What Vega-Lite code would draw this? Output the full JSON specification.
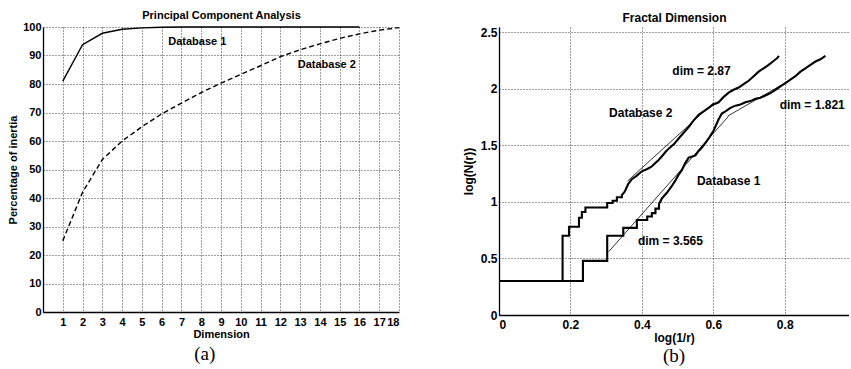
{
  "$schema": "https://vega.github.io/schema/vega-lite/v6.json",
  "background": "white",
  "padding": {"left": 7, "top": 9, "right": 0, "bottom": 0},
  "spacing": 60,
  "config": {
    "view": {"stroke": null},
    "font": "Liberation Sans",
    "axis": {
      "labelFont": "Liberation Sans", "labelFontWeight": "bold", "labelColor": "black",
      "titleFont": "Liberation Sans", "titleFontWeight": "bold", "titleColor": "black",
      "domainColor": "black", "domainWidth": 1.3,
      "gridColor": "#000", "gridDash": [1, 2], "gridWidth": 0.9, "gridOpacity": 0.85,
      "ticks": false, "labelOverlap": false
    },
    "title": {"font": "Liberation Serif", "fontWeight": "normal", "fontSize": 19, "color": "black"}
  },
  "datasets": {
    "pca": [
      {"series": "Database 1", "dimension": 1, "pct": 81},
      {"series": "Database 1", "dimension": 2, "pct": 93.8},
      {"series": "Database 1", "dimension": 3, "pct": 97.8},
      {"series": "Database 1", "dimension": 4, "pct": 99.2},
      {"series": "Database 1", "dimension": 5, "pct": 99.7},
      {"series": "Database 1", "dimension": 6, "pct": 99.9},
      {"series": "Database 1", "dimension": 7, "pct": 100},
      {"series": "Database 1", "dimension": 8, "pct": 100},
      {"series": "Database 1", "dimension": 9, "pct": 100},
      {"series": "Database 1", "dimension": 10, "pct": 100},
      {"series": "Database 1", "dimension": 11, "pct": 100},
      {"series": "Database 1", "dimension": 12, "pct": 100},
      {"series": "Database 1", "dimension": 13, "pct": 100},
      {"series": "Database 1", "dimension": 14, "pct": 100},
      {"series": "Database 1", "dimension": 15, "pct": 100},
      {"series": "Database 1", "dimension": 16, "pct": 100},
      {"series": "Database 2", "dimension": 1, "pct": 25},
      {"series": "Database 2", "dimension": 2, "pct": 42},
      {"series": "Database 2", "dimension": 3, "pct": 53.5},
      {"series": "Database 2", "dimension": 4, "pct": 60},
      {"series": "Database 2", "dimension": 5, "pct": 65},
      {"series": "Database 2", "dimension": 6, "pct": 69.5},
      {"series": "Database 2", "dimension": 7, "pct": 73.3},
      {"series": "Database 2", "dimension": 8, "pct": 77},
      {"series": "Database 2", "dimension": 9, "pct": 80.3},
      {"series": "Database 2", "dimension": 10, "pct": 83.4},
      {"series": "Database 2", "dimension": 11, "pct": 86.4},
      {"series": "Database 2", "dimension": 12, "pct": 89.6},
      {"series": "Database 2", "dimension": 13, "pct": 92},
      {"series": "Database 2", "dimension": 14, "pct": 94.1},
      {"series": "Database 2", "dimension": 15, "pct": 96},
      {"series": "Database 2", "dimension": 16, "pct": 97.6},
      {"series": "Database 2", "dimension": 17, "pct": 98.9},
      {"series": "Database 2", "dimension": 18, "pct": 99.8}
    ],
    "notesA": [
      {"label": "Database 1", "dimension": 7.8, "pct": 94.8},
      {"label": "Database 2", "dimension": 14.35, "pct": 86.7}
    ],
    "fractal": [
      {"series": "Database 2", "x": 0, "y": 0.30},
      {"series": "Database 2", "x": 0.178, "y": 0.30},
      {"series": "Database 2", "x": 0.178, "y": 0.70},
      {"series": "Database 2", "x": 0.196, "y": 0.70},
      {"series": "Database 2", "x": 0.196, "y": 0.78},
      {"series": "Database 2", "x": 0.224, "y": 0.78},
      {"series": "Database 2", "x": 0.224, "y": 0.86},
      {"series": "Database 2", "x": 0.232, "y": 0.86},
      {"series": "Database 2", "x": 0.232, "y": 0.91},
      {"series": "Database 2", "x": 0.242, "y": 0.91},
      {"series": "Database 2", "x": 0.242, "y": 0.95},
      {"series": "Database 2", "x": 0.303, "y": 0.95},
      {"series": "Database 2", "x": 0.303, "y": 0.99},
      {"series": "Database 2", "x": 0.318, "y": 0.99},
      {"series": "Database 2", "x": 0.318, "y": 1.01},
      {"series": "Database 2", "x": 0.330, "y": 1.01},
      {"series": "Database 2", "x": 0.330, "y": 1.04},
      {"series": "Database 2", "x": 0.344, "y": 1.04},
      {"series": "Database 2", "x": 0.344, "y": 1.06},
      {"series": "Database 2", "x": 0.352, "y": 1.09},
      {"series": "Database 2", "x": 0.362, "y": 1.16},
      {"series": "Database 2", "x": 0.372, "y": 1.20},
      {"series": "Database 2", "x": 0.385, "y": 1.23},
      {"series": "Database 2", "x": 0.400, "y": 1.27},
      {"series": "Database 2", "x": 0.415, "y": 1.29},
      {"series": "Database 2", "x": 0.427, "y": 1.31},
      {"series": "Database 2", "x": 0.437, "y": 1.34},
      {"series": "Database 2", "x": 0.447, "y": 1.37},
      {"series": "Database 2", "x": 0.458, "y": 1.41},
      {"series": "Database 2", "x": 0.466, "y": 1.44},
      {"series": "Database 2", "x": 0.475, "y": 1.47},
      {"series": "Database 2", "x": 0.490, "y": 1.51},
      {"series": "Database 2", "x": 0.503, "y": 1.56},
      {"series": "Database 2", "x": 0.517, "y": 1.61},
      {"series": "Database 2", "x": 0.531, "y": 1.66},
      {"series": "Database 2", "x": 0.545, "y": 1.72},
      {"series": "Database 2", "x": 0.559, "y": 1.77},
      {"series": "Database 2", "x": 0.573, "y": 1.80},
      {"series": "Database 2", "x": 0.587, "y": 1.83},
      {"series": "Database 2", "x": 0.600, "y": 1.86},
      {"series": "Database 2", "x": 0.615, "y": 1.88},
      {"series": "Database 2", "x": 0.630, "y": 1.93},
      {"series": "Database 2", "x": 0.643, "y": 1.965},
      {"series": "Database 2", "x": 0.657, "y": 1.99},
      {"series": "Database 2", "x": 0.671, "y": 2.01},
      {"series": "Database 2", "x": 0.685, "y": 2.04},
      {"series": "Database 2", "x": 0.699, "y": 2.07},
      {"series": "Database 2", "x": 0.713, "y": 2.11},
      {"series": "Database 2", "x": 0.727, "y": 2.15},
      {"series": "Database 2", "x": 0.741, "y": 2.18},
      {"series": "Database 2", "x": 0.755, "y": 2.21},
      {"series": "Database 2", "x": 0.767, "y": 2.24},
      {"series": "Database 2", "x": 0.779, "y": 2.27},
      {"series": "Database 2", "x": 0.784, "y": 2.29},
      {"series": "Database 1", "x": 0, "y": 0.30},
      {"series": "Database 1", "x": 0.235, "y": 0.30},
      {"series": "Database 1", "x": 0.235, "y": 0.478},
      {"series": "Database 1", "x": 0.303, "y": 0.478},
      {"series": "Database 1", "x": 0.303, "y": 0.70},
      {"series": "Database 1", "x": 0.348, "y": 0.70},
      {"series": "Database 1", "x": 0.348, "y": 0.77},
      {"series": "Database 1", "x": 0.386, "y": 0.77},
      {"series": "Database 1", "x": 0.386, "y": 0.84},
      {"series": "Database 1", "x": 0.415, "y": 0.84},
      {"series": "Database 1", "x": 0.415, "y": 0.87},
      {"series": "Database 1", "x": 0.428, "y": 0.87},
      {"series": "Database 1", "x": 0.428, "y": 0.90},
      {"series": "Database 1", "x": 0.438, "y": 0.90},
      {"series": "Database 1", "x": 0.438, "y": 0.94},
      {"series": "Database 1", "x": 0.448, "y": 0.94},
      {"series": "Database 1", "x": 0.448, "y": 0.98},
      {"series": "Database 1", "x": 0.456, "y": 1.03},
      {"series": "Database 1", "x": 0.470, "y": 1.08},
      {"series": "Database 1", "x": 0.484, "y": 1.14},
      {"series": "Database 1", "x": 0.494, "y": 1.19},
      {"series": "Database 1", "x": 0.503, "y": 1.24},
      {"series": "Database 1", "x": 0.512, "y": 1.28},
      {"series": "Database 1", "x": 0.521, "y": 1.34},
      {"series": "Database 1", "x": 0.531, "y": 1.39},
      {"series": "Database 1", "x": 0.541, "y": 1.40},
      {"series": "Database 1", "x": 0.550, "y": 1.41},
      {"series": "Database 1", "x": 0.559, "y": 1.45},
      {"series": "Database 1", "x": 0.568, "y": 1.48},
      {"series": "Database 1", "x": 0.578, "y": 1.52},
      {"series": "Database 1", "x": 0.587, "y": 1.56},
      {"series": "Database 1", "x": 0.601, "y": 1.63},
      {"series": "Database 1", "x": 0.615, "y": 1.73},
      {"series": "Database 1", "x": 0.624, "y": 1.78},
      {"series": "Database 1", "x": 0.634, "y": 1.80},
      {"series": "Database 1", "x": 0.648, "y": 1.83},
      {"series": "Database 1", "x": 0.662, "y": 1.85},
      {"series": "Database 1", "x": 0.676, "y": 1.86},
      {"series": "Database 1", "x": 0.690, "y": 1.88},
      {"series": "Database 1", "x": 0.704, "y": 1.89},
      {"series": "Database 1", "x": 0.718, "y": 1.91},
      {"series": "Database 1", "x": 0.732, "y": 1.92},
      {"series": "Database 1", "x": 0.746, "y": 1.94},
      {"series": "Database 1", "x": 0.760, "y": 1.96},
      {"series": "Database 1", "x": 0.774, "y": 1.99},
      {"series": "Database 1", "x": 0.788, "y": 2.02},
      {"series": "Database 1", "x": 0.802, "y": 2.05},
      {"series": "Database 1", "x": 0.816, "y": 2.08},
      {"series": "Database 1", "x": 0.830, "y": 2.11},
      {"series": "Database 1", "x": 0.844, "y": 2.15},
      {"series": "Database 1", "x": 0.858, "y": 2.18},
      {"series": "Database 1", "x": 0.872, "y": 2.21},
      {"series": "Database 1", "x": 0.886, "y": 2.24},
      {"series": "Database 1", "x": 0.900, "y": 2.26},
      {"series": "Database 1", "x": 0.914, "y": 2.29}
    ],
    "fits": [
      {"fit": "dim = 2.87", "x": 0.36, "y": 1.184},
      {"fit": "dim = 2.87", "x": 0.60, "y": 1.873},
      {"fit": "dim = 3.565", "x": 0.307, "y": 0.559},
      {"fit": "dim = 3.565", "x": 0.642, "y": 1.754},
      {"fit": "dim = 1.821", "x": 0.64, "y": 1.757},
      {"fit": "dim = 1.821", "x": 0.80, "y": 2.049}
    ],
    "notesB": [
      {"label": "dim = 2.87", "x": 0.567, "y": 2.16},
      {"label": "Database 2", "x": 0.397, "y": 1.783},
      {"label": "dim = 1.821", "x": 0.877, "y": 1.857},
      {"label": "Database 1", "x": 0.643, "y": 1.185},
      {"label": "dim = 3.565", "x": 0.48, "y": 0.657}
    ]
  },
  "hconcat": [
    {
      "width": 356,
      "height": 285,
      "title": {"text": "(a)", "orient": "bottom", "offset": 6, "anchor": "middle", "frame": "bounds"},
      "resolve": {"axis": {"x": "independent"}},
      "encoding": {
        "y": {"field": "pct", "type": "quantitative", "scale": {"domain": [0, 100], "nice": false},
          "axis": {"values": [0,10,20,30,40,50,60,70,80,90,100], "labelOverlap": false, "labelFontSize": 11, "labelPadding": 2,
            "title": "Percentage of inertia", "titleFontSize": 11, "titlePadding": 4, "grid": true}}
      },
      "layer": [
        {
          "data": {"name": "pca"},
          "transform": [{"filter": "datum.series == 'Database 1'"}],
          "mark": {"type": "line", "color": "black", "strokeWidth": 1.4},
          "encoding": {
            "x": {"field": "dimension", "type": "quantitative", "scale": {"domain": [0, 18], "nice": false},
              "axis": {"values": [1,2,3,4,5,6,7,8,9,10,11,12,13,14,15,16,17,18], "labelOverlap": false, "format": "d", "labelFontSize": 11, "labelPadding": 4,
                "title": "Dimension", "titleFontSize": 11, "titlePadding": 1, "grid": true}}
          }
        },
        {
          "data": {"name": "pca"},
          "transform": [{"filter": "datum.series == 'Database 2'"}],
          "mark": {"type": "line", "color": "black", "strokeWidth": 1.4, "strokeDash": [5, 3]},
          "encoding": {
            "x": {"field": "dimension", "type": "quantitative",
              "axis": {"orient": "top", "domain": false, "labels": false, "grid": false,
                "title": "Principal Component Analysis", "titleFontSize": 11, "titlePadding": 7}}
          }
        },
        {
          "data": {"name": "notesA"},
          "mark": {"type": "text", "font": "Liberation Sans", "fontWeight": "bold", "fontSize": 11, "color": "black"},
          "encoding": {
            "x": {"field": "dimension", "type": "quantitative", "axis": null},
            "text": {"field": "label"}
          }
        }
      ]
    },
    {
      "width": 350,
      "height": 288,
      "title": {"text": "(b)", "orient": "bottom", "offset": 4, "anchor": "middle", "frame": "group"},
      "resolve": {"axis": {"x": "independent"}},
      "encoding": {
        "y": {"field": "y", "type": "quantitative", "scale": {"domain": [0, 2.545], "nice": false},
          "axis": {"values": [0, 0.5, 1, 1.5, 2, 2.5], "labelOverlap": false, "format": "~g", "labelFontSize": 12, "labelPadding": 2,
            "title": "log(N(r))", "titleFontSize": 12, "titlePadding": 5, "grid": true}}
      },
      "layer": [
        {
          "data": {"name": "fractal"},
          "mark": {"type": "line", "color": "black", "strokeWidth": 2.1},
          "encoding": {
            "x": {"field": "x", "type": "quantitative", "scale": {"domain": [0, 0.98], "nice": false},
              "axis": {"values": [0, 0.2, 0.4, 0.6, 0.8], "labelOverlap": false, "format": "~g", "labelFontSize": 12, "labelPadding": 4,
                "title": "log(1/r)", "titleFontSize": 12, "titlePadding": 2, "grid": true}},
            "detail": {"field": "series"},
            "order": {"value": null}
          }
        },
        {
          "data": {"name": "fits"},
          "mark": {"type": "line", "color": "black", "strokeWidth": 0.8},
          "encoding": {
            "x": {"field": "x", "type": "quantitative",
              "axis": {"orient": "top", "domain": false, "labels": false, "grid": false,
                "title": "Fractal Dimension", "titleFontSize": 12, "titlePadding": 3}},
            "detail": {"field": "fit"}
          }
        },
        {
          "data": {"name": "notesB"},
          "mark": {"type": "text", "font": "Liberation Sans", "fontWeight": "bold", "fontSize": 12, "color": "black"},
          "encoding": {
            "x": {"field": "x", "type": "quantitative", "axis": null},
            "text": {"field": "label"}
          }
        }
      ]
    }
  ]
}
